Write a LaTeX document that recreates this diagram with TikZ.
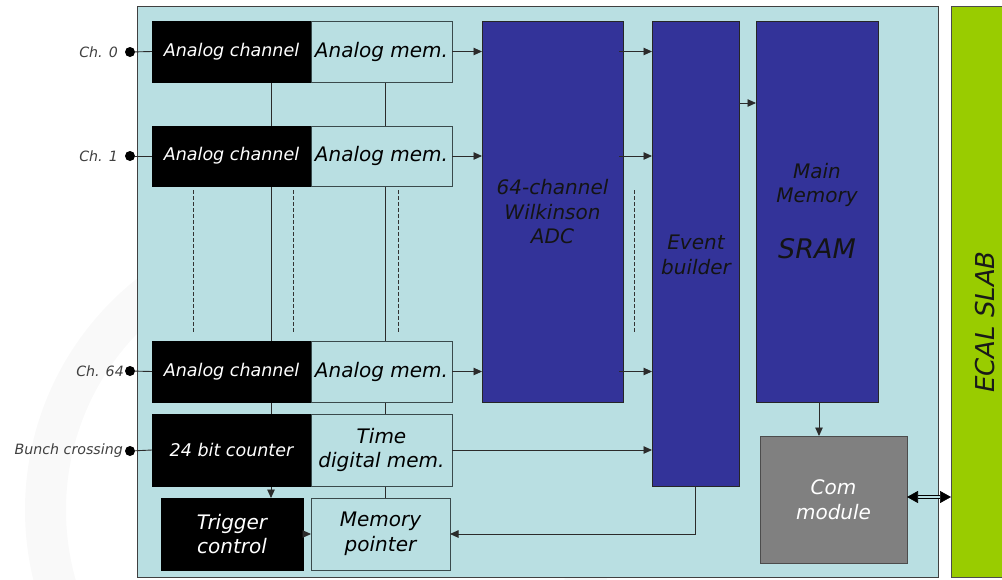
\documentclass[tikz,border=0pt]{standalone}
\usepackage{fontspec}
\setmainfont{DejaVu Sans}
\usetikzlibrary{arrows.meta}
\pgfdeclarelayer{back}
\pgfdeclarelayer{wires}
\pgfsetlayers{back,wires,main}
\definecolor{chipbg}{HTML}{B9DFE2}
\definecolor{adcblue}{HTML}{333399}
\definecolor{slabgreen}{HTML}{99CC00}
\definecolor{modgray}{HTML}{808080}
\definecolor{wirecol}{HTML}{2B2B2B}
\definecolor{bordcol}{HTML}{3A4A4C}
\tikzset{
  box/.style={rectangle, inner sep=0pt, outer sep=0pt, draw=bordcol, line width=0.8pt, align=center},
  blackbox/.style={box, fill=black, draw=black, text=white},
  membox/.style={box, fill=chipbg, text=black},
  bluebox/.style={box, fill=adcblue, draw=black!85, text=black!92},
  single/.style={font=\fontsize{17.5}{21}\selectfont\itshape},
  memfont/.style={font=\fontsize{20}{24}\selectfont\itshape},
  twoline/.style={font=\fontsize{20}{24.5}\selectfont\itshape},
  inlabel/.style={anchor=east, inner sep=0pt, text=black!75, font=\fontsize{14.2}{17}\selectfont\itshape},
  indot/.style={circle, fill=black, inner sep=0pt, minimum size=10pt},
  wire/.style={draw=wirecol, line width=0.9pt},
  arr/.style={wire, -{Triangle[length=8.5pt,width=7.5pt]}},
  dashline/.style={draw=black!80, line width=0.9pt, dash pattern=on 3.5pt off 2.5pt},
}
\begin{document}
\begin{tikzpicture}[x=1pt, y=-1pt]
\useasboundingbox (0,0) rectangle (1002,579);

% faint ring in the page background
\begin{pgfonlayer}{back}
  \begin{scope}
    \clip (0,0) rectangle (1002,579);
    \fill[gray!5, even odd rule] (320,510) circle[radius=295pt] (320,510) circle[radius=254pt];
  \end{scope}
  % chip outline
  \node[box, fill=chipbg, draw=black!75, minimum width=801pt, minimum height=571pt] (chip) at (537.5,291.5) {};
  % ECAL slab
  \node[box, fill=slabgreen, draw=black!70, minimum width=60pt, minimum height=571pt] (slab) at (981,291.5) {};
\end{pgfonlayer}
\node[rotate=90, font=\fontsize{26}{30}\selectfont\itshape, text=black!90] (slabtxt) at (985,322) {ECAL SLAB};

% analog channels and memories
\node[blackbox, single, minimum width=159pt, minimum height=61pt] (ac0) at (231.5,51.5) {Analog channel};
\node[membox, memfont, minimum width=141pt, minimum height=61pt] (am0) at (381.5,51.5) {Analog mem.};
\node[blackbox, single, minimum width=159pt, minimum height=60pt] (ac1) at (231.5,156) {Analog channel};
\node[membox, memfont, minimum width=141pt, minimum height=60pt] (am1) at (381.5,156) {Analog mem.};
\node[blackbox, single, minimum width=159pt, minimum height=61pt] (ac64) at (231.5,371.5) {Analog channel};
\node[membox, memfont, minimum width=141pt, minimum height=61pt] (am64) at (381.5,371.5) {Analog mem.};

% counter and time memory
\node[blackbox, single, minimum width=159pt, minimum height=72pt] (cnt) at (231.5,450) {24 bit counter};
\node[membox, twoline, minimum width=141pt, minimum height=72pt] (tdm) at (381.5,450) {Time\\digital mem.};

% trigger and pointer
\node[blackbox, twoline, minimum width=142pt, minimum height=72pt] (trg) at (232,534) {Trigger\\control};
\node[membox, twoline, minimum width=139pt, minimum height=72pt] (mp) at (380.5,534) {Memory\\pointer};

% digital blocks
\node[bluebox, minimum width=141pt, minimum height=381pt] (adc) at (552.5,211.5) {};
\node[twoline, text=black!92, align=center] (adctxt) at (552.5,212) {64-channel\\Wilkinson\\ADC};
\node[bluebox, minimum width=87pt, minimum height=465pt] (eb) at (695.5,253.5) {};
\node[twoline, text=black!92, align=center] (ebtxt) at (696,255) {Event\\builder};
\node[bluebox, minimum width=122pt, minimum height=381pt] (mm) at (817,211.5) {};
\node[twoline, text=black!92, align=center] (mmtxt) at (817,185) {Main\\Memory};
\node[font=\fontsize{27}{31}\selectfont\itshape, text=black!92] (sram) at (817,249) {SRAM};
\node[box, fill=modgray, draw=black!70, text=white, twoline, minimum width=147pt, minimum height=127pt] (com) at (833.5,499.5) {Com\\module};

% inputs
\node[indot] (d0) at (130,52) {};
\node[indot] (d1) at (130,156) {};
\node[indot] (d64) at (130,371) {};
\node[indot] (dbx) at (130,451) {};
\node[inlabel] (l0) at ([xshift=-12pt]d0.center) {Ch. 0};
\node[inlabel] (l1) at ([xshift=-12pt]d1.center) {Ch. 1};
\node[inlabel] (l64) at ([xshift=-6pt]d64.center) {Ch. 64};
\node[inlabel] (lbx) at ([xshift=-7pt]dbx.center) {Bunch crossing};
\draw[wire] (d0) -- (ac0.west);
\draw[wire] (d1) -- (ac1.west);
\draw[wire] (d64) -- (ac64.west);
\draw[wire] (dbx) -- (cnt.west);

% control buses running down the channel stack
\coordinate (busA) at (271,0);
\coordinate (busB) at (385,0);
\begin{pgfonlayer}{wires}
  \draw[arr] (ac0.south -| busA) -- (trg.north -| busA);
  \draw[wire] (am0.south -| busB) -- (mp.north -| busB);
\end{pgfonlayer}

% omitted channels
\coordinate (dA1) at (193,190); \coordinate (dA2) at (193,333);
\coordinate (dB1) at (293,190); \coordinate (dB2) at (293,333);
\coordinate (dC1) at (398,190); \coordinate (dC2) at (398,333);
\coordinate (dD1) at (634,190); \coordinate (dD2) at (634,333);
\draw[dashline] (dA1) -- (dA2);
\draw[dashline] (dB1) -- (dB2);
\draw[dashline] (dC1) -- (dC2);
\draw[dashline] (dD1) -- (dD2);

% data path
\draw[arr] (am0.east) -- (am0.east -| adc.west);
\draw[arr] (am1.east) -- (am1.east -| adc.west);
\draw[arr] (am64.east) -- (am64.east -| adc.west);
\draw[arr] ([xshift=-4pt]am0.east -| adc.east) -- (am0.east -| eb.west);
\draw[arr] ([xshift=-4pt]am1.east -| adc.east) -- (am1.east -| eb.west);
\draw[arr] ([xshift=-4pt]am64.east -| adc.east) -- (am64.east -| eb.west);
\coordinate (ebout) at (0,103);
\draw[arr] (ebout -| eb.east) -- (ebout -| mm.west);
\draw[arr] ([xshift=2pt]mm.south) -- ([xshift=2pt]mm.south |- com.north);
\draw[arr] (tdm.east) -- (tdm.east -| eb.west);
\draw[arr] (eb.south) -- (eb.south |- mp.east) -- (mp.east);
\draw[arr] (trg.east) -- (mp.west);
\draw[draw=black, line width=0.6pt, double=chipbg, double distance=2pt,
  {Triangle[length=11pt,width=12pt]}-{Triangle[length=11pt,width=12pt]}]
  ([yshift=2.5pt]com.east) -- ([yshift=2.5pt]com.east -| slab.west);
\end{tikzpicture}
\end{document}
